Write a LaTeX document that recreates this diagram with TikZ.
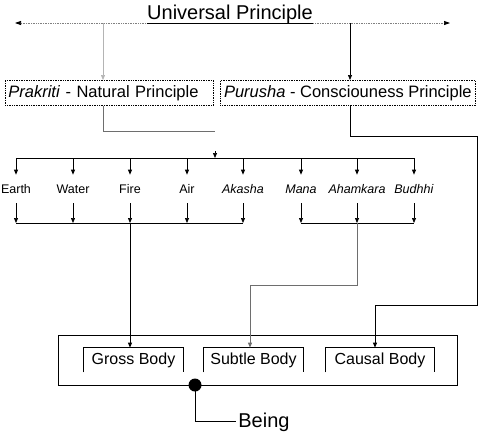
\documentclass[tikz,border=0pt]{standalone}
\usepackage{fontspec}
\setmainfont{Liberation Sans}
\usetikzlibrary{positioning,arrows.meta}
\tikzset{>={Triangle[length=5pt,width=4pt]}}
\definecolor{lightline}{HTML}{B4B4B4}
\definecolor{midline}{HTML}{6E6E6E}

\begin{document}
\begin{tikzpicture}[x=1pt,y=-1pt,line width=0.7pt,
    principle/.style={draw,densely dotted,minimum height=25pt,inner xsep=3pt,inner ysep=0pt,font=\fontsize{16.5}{18}\selectfont},
    element/.style={inner sep=0pt,minimum height=28pt,font=\fontsize{12.5}{14}\selectfont},
    bodybox/.style={inner sep=0pt,minimum height=24pt,font=\fontsize{16}{18}\selectfont}]
  \useasboundingbox (0,0) rectangle (486,440);
  % universal principle and its two branches
  \node[anchor=base,inner sep=0pt,font=\fontsize{20}{24}\selectfont] (univ) at (230,19) {Universal Principle};
  \coordinate (uleft) at (15,23);
  \coordinate (uright) at (450,23);
  \draw[densely dotted,gray,{Triangle[length=6pt,width=4pt,color=black]}-] (uleft) -- (uleft -| univ.west);
  \draw (uleft -| univ.west) -- (uright -| univ.east);
  \draw[densely dotted,gray,-{Triangle[length=6pt,width=4pt,color=black]}] (uright -| univ.east) -- (uright);
  \node[principle,text width=202pt,align=left,anchor=north west] (prak) at (5,80) {\textit{Prakriti} - Natural Principle};
  \node[principle,minimum width=255pt,anchor=north west] (puru) at (220,80) {\textit{Purusha} - Consciouness Principle};
  \coordinate (ptop) at (103,23);
  \coordinate (qtop) at (350,23);
  \draw[lightline,->] (ptop) -- (ptop |- prak.north);
  \draw[->] (qtop) -- (qtop |- puru.north);
  \coordinate (pend) at (215,131);
  \draw[midline] (ptop |- prak.south) |- (pend);
  % elements
  \coordinate (topbus) at (0,158);
  \coordinate (lowbus) at (0,223);
  \coordinate (stub) at (215,151);
  \draw[->] (stub) -- (stub |- topbus);
  \foreach \name/\lab/\x in {earth/Earth/16, water/Water/73, fire/Fire/130, air/Air/187,
      akasha/\textit{Akasha}/243, mana/\textit{Mana}/301, aham/\textit{Ahamkara}/357, budhhi/\textit{Budhhi}/414} {
    \node[element] (\name) at (\x,189) {\lab};
    \draw[->] (\name |- topbus) -- (\name.north);
    \draw[->] (\name.south) -- (\name |- lowbus);
  }
  \draw (earth |- topbus) -- (budhhi |- topbus);
  \draw (earth |- lowbus) -- (akasha |- lowbus);
  \draw (mana |- lowbus) -- (budhhi |- lowbus);
  % bodies
  \node[draw,line width=1.5pt,minimum width=399pt,minimum height=50pt] (bodies) at (258,360.5) {};
  \node[bodybox,minimum width=99pt] (gross) at (133.5,360) {Gross Body};
  \node[bodybox,minimum width=99pt] (subtle) at (253.5,360) {Subtle Body};
  \node[bodybox,minimum width=108pt] (causal) at (380,360) {Causal Body};
  \draw (gross.south west) |- (gross.north east) -- (gross.south east);
  \draw (subtle.south west) |- (subtle.north east) -- (subtle.south east);
  \draw (causal.south west) |- (causal.north east) -- (causal.south east);
  \draw[->] (fire |- lowbus) -- (fire |- gross.north);
  \coordinate (sbend) at (250,285);
  \draw[midline,->] (aham |- lowbus) |- (sbend) -- (sbend |- subtle.north);
  \coordinate (cb1) at (477,136);
  \coordinate (cb2) at (375,305);
  \draw[->] (qtop |- puru.south) |- (cb1) |- (cb2) -- (cb2 |- causal.north);
  % being
  \coordinate (knot) at (195,385);
  \fill (knot) circle (6.5);
  \node[anchor=base west,inner sep=2pt,font=\fontsize{20}{24}\selectfont] (being) at (236,427) {Being};
  \draw (knot) |- (being.west);
\end{tikzpicture}
\end{document}
